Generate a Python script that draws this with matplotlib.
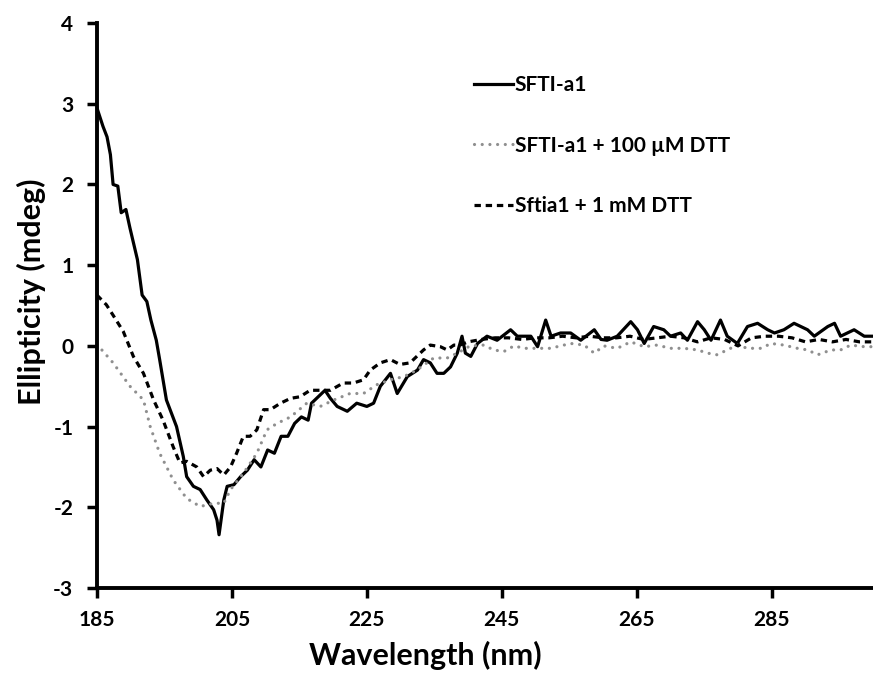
import matplotlib
matplotlib.use("Agg")
import matplotlib.pyplot as plt

plt.rcParams['font.family'] = ['Lato', 'DejaVu Sans']
plt.rcParams['font.weight'] = 'bold'
plt.rcParams['axes.unicode_minus'] = False

# ---- data ----
wl_a1 = [185, 185.9, 186.5, 187, 187.4, 188.1, 188.6, 189.3, 189.9, 191, 191.7, 192.4, 193, 193.8,
         194.3, 195.3, 196.8, 197.8, 198.3, 199.3, 200.3, 201.3, 202.3, 202.8, 203.1, 203.8, 204.3,
         205.3, 206.3, 207.3, 208.3, 209.3, 210.3, 211.3, 212.3, 213.3, 214.3, 215.3, 216.3, 216.8,
         217.8, 218.8, 219.6, 220.6, 222.1, 223.5, 225.0, 226.0, 227.0, 228.5, 229.5, 231.0, 232.5,
         233.4, 234.4, 235.4, 236.4, 237.4, 238.4, 239.1, 239.6, 240.4, 241.4, 242.8, 244.3, 246.3,
         247.3, 249.3, 250.3, 251.5, 252.3, 253.7, 255.2, 256.7, 258.7, 259.7, 260.6, 262.1, 264.1,
         265.1, 266.1, 267.5, 269.0, 270.0, 271.5, 272.5, 274.0, 275.0, 276.0, 277.4, 278.4, 279.9,
         281.4, 282.9, 284.4, 285.4, 286.8, 288.3, 290.3, 291.3, 293.3, 294.3, 295.2, 297.2, 298.7, 300]
ell_a1 = [2.95, 2.72, 2.59, 2.37, 2.0, 1.98, 1.65, 1.69, 1.46, 1.07, 0.63, 0.55, 0.32, 0.07,
          -0.17, -0.67, -1.0, -1.37, -1.62, -1.74, -1.78, -1.91, -2.03, -2.16, -2.34, -1.91, -1.74,
          -1.72, -1.62, -1.54, -1.41, -1.5, -1.29, -1.33, -1.12, -1.12, -0.96, -0.88, -0.92, -0.71,
          -0.63, -0.55, -0.65, -0.75, -0.81, -0.71, -0.75, -0.71, -0.50, -0.34, -0.59, -0.38, -0.30,
          -0.17, -0.21, -0.34, -0.34, -0.26, -0.09, 0.12, -0.09, -0.13, 0.03, 0.12, 0.07, 0.20,
          0.12, 0.12, -0.01, 0.32, 0.12, 0.16, 0.16, 0.07, 0.20, 0.08, 0.07, 0.12, 0.30,
          0.20, 0.03, 0.24, 0.20, 0.12, 0.16, 0.07, 0.30, 0.20, 0.07, 0.32, 0.12, 0.03,
          0.24, 0.28, 0.20, 0.16, 0.20, 0.28, 0.20, 0.12, 0.24, 0.28, 0.12, 0.20, 0.12, 0.12]

wl_100 = [185, 187.4, 189.9, 191.9, 192.9, 194.3, 196.3, 198.3, 200.3, 202.3, 203.8, 204.8, 206.7,
          208.7, 210.2, 211.7, 213.7, 216.1, 218.1, 220.1, 222.5, 224.5, 226.5, 228.5, 230.5, 232.4,
          233.9, 234.9, 236.9, 238.4, 240.3, 242.3, 243.8, 245.3, 246.8, 248.3, 250.3, 252.2, 255.2,
          257.2, 258.7, 260.1, 262.1, 264.1, 266.1, 268.0, 270.0, 272.0, 274.0, 275.5, 276.9, 278.4,
          279.9, 281.4, 283.4, 284.9, 286.8, 288.8, 290.3, 291.8, 293.8, 295.2, 296.7, 298.7, 300]
ell_100 = [0.02, -0.21, -0.50, -0.67, -1.0, -1.33, -1.66, -1.89, -1.99, -1.95, -1.95, -1.78, -1.58,
           -1.33, -1.04, -0.96, -0.88, -0.71, -0.75, -0.67, -0.59, -0.59, -0.48, -0.42, -0.38, -0.30,
           -0.21, -0.15, -0.15, -0.09, 0.0, 0.01, -0.05, -0.07, 0.0, -0.03, -0.03, -0.03, 0.03,
           0.01, -0.09, 0.0, -0.03, 0.05, -0.01, 0.01, -0.03, -0.03, -0.05, -0.09, -0.11, -0.05,
           0.01, -0.03, -0.03, 0.03, 0.01, -0.03, -0.05, -0.11, -0.05, -0.05, 0.01, -0.01, -0.01]

wl_1mm = [185, 186.4, 187.4, 188.9, 190.4, 191.9, 193.4, 194.8, 196.3, 197.3, 198.3, 199.8, 200.8,
          201.8, 202.8, 203.8, 204.8, 205.7, 206.7, 207.7, 208.7, 209.7, 210.7, 212.2, 213.7, 215.1,
          216.6, 218.1, 219.6, 221.5, 223.0, 224.5, 225.5, 227.0, 228.5, 229.9, 231.4, 232.4, 233.4,
          234.4, 235.9, 236.9, 237.9, 238.8, 240, 242, 244, 246, 248, 250, 252, 254, 256, 258, 260,
          262, 264, 266, 268, 270, 272, 274, 276, 278, 280, 282, 284, 286, 288, 290, 292, 294, 296,
          298, 300]
ell_1mm = [0.63, 0.51, 0.38, 0.18, -0.13, -0.34, -0.67, -0.92, -1.25, -1.45, -1.43, -1.5, -1.62,
           -1.54, -1.52, -1.6, -1.5, -1.33, -1.12, -1.12, -1.04, -0.79, -0.79, -0.71, -0.65, -0.63,
           -0.55, -0.55, -0.55, -0.46, -0.46, -0.42, -0.30, -0.21, -0.17, -0.23, -0.21, -0.13, -0.05,
           0.01, -0.01, -0.05, 0.01, 0.01, 0.05, 0.08, 0.10, 0.10, 0.08, 0.10, 0.10, 0.12, 0.10, 0.12,
           0.10, 0.10, 0.12, 0.08, 0.10, 0.12, 0.10, 0.05, 0.10, 0.08, 0.0, 0.10, 0.12, 0.12, 0.10,
           0.05, 0.08, 0.05, 0.08, 0.05, 0.05]

labels = ["SFTI-a1", "SFTI-a1 + 100 µM DTT", "Sftia1 + 1 mM DTT"]
x_ticks = [185, 205, 225, 245, 265, 285]
y_ticks = [-3, -2, -1, 0, 1, 2, 3, 4]

fig = plt.figure(figsize=(8.73, 6.78), dpi=100)
ax = fig.add_axes([0.111, 0.1327, 0.889, 0.8333])

ax.plot(wl_a1, ell_a1, color='black', lw=2.3, solid_joinstyle='round', label=labels[0])
ax.plot(wl_100, ell_100, color='#8f8f8f', lw=2.3, dashes=(0.01, 2.4),
        dash_capstyle='round', label=labels[1])
ax.plot(wl_1mm, ell_1mm, color='black', lw=2.3, dashes=(2.0, 1.5), label=labels[2])

ax.set_xlim(185, 300)
ax.set_ylim(-3, 4)
ax.set_xticks(x_ticks)
ax.set_yticks(y_ticks)
ax.tick_params(axis='both', direction='out', length=7, width=2.5, labelsize=15)
ax.tick_params(axis='x', pad=9)
ax.tick_params(axis='y', pad=10)
for lab in ax.get_xticklabels() + ax.get_yticklabels():
    lab.set_fontweight('bold')

for s in ['top', 'right']:
    ax.spines[s].set_visible(False)
for s in ['left', 'bottom']:
    ax.spines[s].set_linewidth(2.8)

ax.set_xlabel("Wavelength (nm)", fontsize=22, fontweight='bold')
ax.set_ylabel("Ellipticity (mdeg)", fontsize=22, fontweight='bold')
ax.xaxis.set_label_coords(0.423, -0.094)
ax.yaxis.set_label_coords(-0.066, 0.524)

leg = ax.legend(loc='upper left', bbox_to_anchor=(0.486, 0.908), frameon=False,
                borderpad=0, borderaxespad=0, handlelength=1.85, handletextpad=0.1,
                labelspacing=1.95, prop={'size': 15, 'weight': 'bold'})

fig.savefig("out.png", dpi=100)
